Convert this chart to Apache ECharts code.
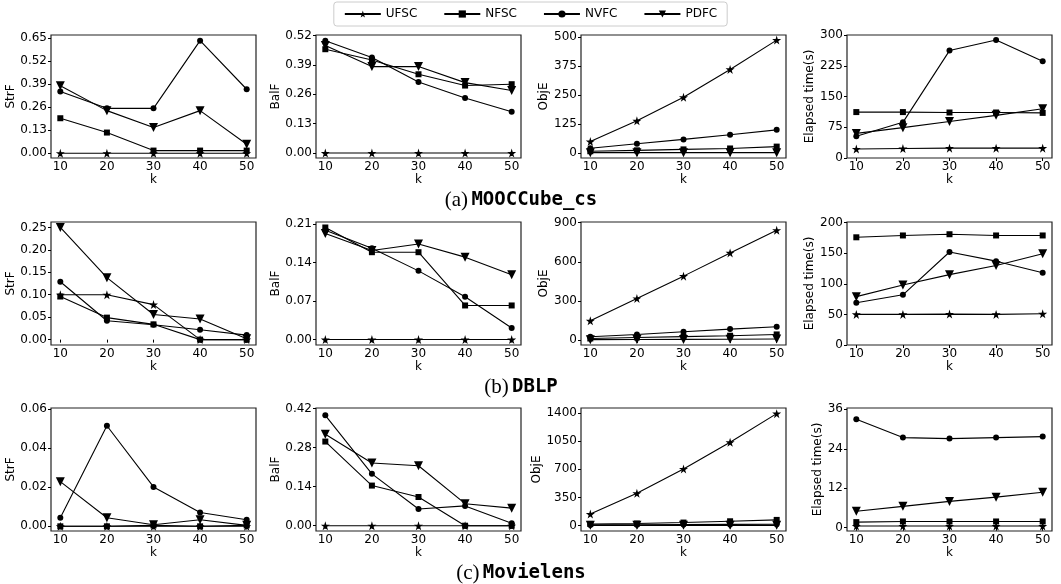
<!DOCTYPE html>
<html>
<head>
<meta charset="utf-8">
<script src="https://cdn.jsdelivr.net/npm/echarts@6/dist/echarts.min.js"></script>
<style>
html,body{margin:0;padding:0;background:#fff;}
#chart{width:1061px;height:584px;}
</style>
</head>
<body>
<div id="chart"></div>
<script>
// ---------------- data ----------------
const algorithms = ['UFSC', 'NFSC', 'NVFC', 'PDFC'];
const kValues = [10, 20, 30, 40, 50];
const datasets = ['MOOCCube_cs', 'DBLP', 'Movielens'];
const captionTags = ['(a)', '(b)', '(c)'];
const metricNames = ['StrF', 'BalF', 'ObjE', 'Elapsed time(s)'];

// rows: UFSC, NFSC, NVFC, PDFC
const moocStrF = [[0,0,0,0,0],[0.198,0.117,0.015,0.015,0.015],[0.349,0.254,0.254,0.637,0.362],[0.382,0.241,0.145,0.241,0.051]];
const moocBalF = [[0,0,0,0,0],[0.460,0.412,0.349,0.299,0.305],[0.498,0.423,0.315,0.244,0.183],[0.476,0.383,0.383,0.312,0.277]];
const moocObjE = [[50,139,240,360,486],[8,12,16,20,28],[21,40,59,79,100],[2,2,2,2,2]];
const moocTime = [[22,23,24,24,24],[112,112,111,111,110],[53,87,262,288,236],[60,74,89,104,120]];

const dblpStrF = [[0.10,0.10,0.078,0,0],[0.096,0.049,0.034,0,0],[0.129,0.042,0.033,0.022,0.010],[0.25,0.138,0.056,0.046,0.002]];
const dblpBalF = [[0,0,0,0,0],[0.204,0.159,0.159,0.062,0.062],[0.199,0.166,0.125,0.078,0.021],[0.193,0.162,0.174,0.150,0.118]];
const dblpObjE = [[148,319,490,668,842],[12,20,26,33,43],[25,43,64,84,102],[3,4,5,6,8]];
const dblpTime = [[50,50,50.5,50,51],[176,179,181,179,179],[69,82,152,137,118],[79,98,115,130,149]];

const movieStrF = [[0,0,0,0,0],[0,0,0.0005,0,0.0005],[0.0044,0.0516,0.0202,0.0071,0.0034],[0.0229,0.0044,0.0008,0.0034,0.0005]];
const movieBalF = [[0,0,0,0,0],[0.302,0.144,0.103,0,0],[0.396,0.186,0.060,0.071,0.009],[0.328,0.225,0.215,0.079,0.063]];
const movieObjE = [[143,401,704,1036,1392],[20,25,37,53,70],[8,10,12,14,16],[2,2,2,2,2]];
const movieTime = [[0.5,0.5,0.5,0.5,0.5],[1.7,1.9,1.9,1.9,1.9],[33.0,27.4,27.1,27.4,27.7],[5.0,6.5,8.0,9.3,10.8]];

// y tick labels per panel
const moocTicks = [[0,0.13,0.26,0.39,0.52,0.65],[0,0.13,0.26,0.39,0.52],[0,125,250,375,500],[0,75,150,225,300]];
const dblpTicks = [[0,0.05,0.10,0.15,0.20,0.25],[0,0.07,0.14,0.21],[0,300,600,900],[0,50,100,150,200]];
const movieTicks = [[0,0.02,0.04,0.06],[0,0.14,0.28,0.42],[0,350,700,1050,1400],[0,12,24,36]];
const tickDecimals = [2, 2, 0, 0];

// ---------------- layout / style ----------------
const panelValues = [[moocStrF, moocBalF, moocObjE, moocTime],[dblpStrF, dblpBalF, dblpObjE, dblpTime],[movieStrF, movieBalF, movieObjE, movieTime]];
const panelTicks = [moocTicks, dblpTicks, movieTicks];
const yRanges = [
  [[-0.027,0.669],[-0.022,0.523],[-21,508],[0,300]],
  [[-0.012,0.262],[-0.010,0.214],[-38,905],[0,201]],
  [[-0.0024,0.0607],[-0.019,0.4224],[-68,1462],[-1.0,36.4]]
];
const yNameGaps = [[33,33,30,28],[33,33,30,28],[33,33,37,19]];
const colLeft = [51, 316, 581, 847];
const rowTop = [35, 222, 408];
const gridW = 205, gridH = 123;
const captionY = [200, 387, 573];
const captionX = 521;

const STAR = 'path://M50,0 L61,35 L98,35 L68,57 L79,91 L50,70 L21,91 L32,57 L2,35 L39,35 Z';
const TRI_DOWN = 'path://M0,0 L10,0 L5,9 Z';
const symbols = [STAR, 'rect', 'circle', TRI_DOWN];
const symbolSizes = [9, 6, 6, 9];
const FONT = 'DejaVu Sans';

const grids = [], xAxes = [], yAxes = [], series = [];
let idx = 0;
for (let r = 0; r < 3; r++) {
  for (let c = 0; c < 4; c++) {
    grids.push({
      left: colLeft[c], top: rowTop[r], width: gridW, height: gridH,
      show: true, borderColor: '#222', borderWidth: 1.2, backgroundColor: 'transparent'
    });
    xAxes.push({
      type: 'value', gridIndex: idx, min: 8, max: 52,
      name: 'k', nameLocation: 'middle', nameGap: 16,
      nameTextStyle: {fontFamily: FONT, fontSize: 12, color: '#000'},
      axisLine: {show: false},
      axisTick: {show: true, length: 3, inside: false, customValues: kValues, lineStyle: {color: '#000'}},
      axisLabel: {customValues: kValues, fontFamily: FONT, fontSize: 12, color: '#000', margin: 3},
      splitLine: {show: false}
    });
    const ticks = panelTicks[r][c];
    const dec = tickDecimals[c];
    yAxes.push({
      type: 'value', gridIndex: idx, min: yRanges[r][c][0], max: yRanges[r][c][1],
      name: metricNames[c], nameLocation: 'middle', nameGap: yNameGaps[r][c],
      nameTextStyle: {fontFamily: FONT, fontSize: 12, color: '#000'},
      axisLine: {show: false},
      axisTick: {show: true, length: 3, inside: false, customValues: ticks, lineStyle: {color: '#000'}},
      axisLabel: {customValues: ticks, fontFamily: FONT, fontSize: 12, color: '#000', margin: 4,
        formatter: v => Number(v).toFixed(dec)},
      splitLine: {show: false}
    });
    const vals = panelValues[r][c];
    for (let a = 0; a < 4; a++) {
      series.push({
        type: 'line', name: algorithms[a], xAxisIndex: idx, yAxisIndex: idx,
        data: kValues.map((k, j) => [k, vals[a][j]]),
        symbol: symbols[a], symbolSize: symbolSizes[a], showAllSymbol: true,
        lineStyle: {color: '#000', width: 1.1},
        itemStyle: {color: '#000', borderWidth: 0},
        emphasis: {disabled: true},
        animation: false, silent: true, z: 2 + a
      });
    }
    idx++;
  }
}

const graphics = datasets.map((d, r) => ({
  type: 'text',
  x: captionX, y: captionY[r],
  style: {
    text: '{t|' + captionTags[r] + '} {d|' + d + '}',
    textAlign: 'center', textVerticalAlign: 'middle',
    rich: {
      t: {fontFamily: 'Liberation Serif', fontSize: 21, fill: '#000'},
      d: {fontFamily: 'DejaVu Sans Mono', fontWeight: 'bold', fontSize: 19, fill: '#000'}
    }
  }
}));

const chart = echarts.init(document.getElementById('chart'), null, {renderer: 'canvas'});
chart.setOption({
  backgroundColor: '#fff',
  animation: false,
  legend: {
    data: algorithms,
    top: 2, left: 'center',
    itemWidth: 36, itemHeight: 9, itemGap: 26,
    padding: [6, 10],
    borderColor: '#ccc', borderWidth: 1, borderRadius: 3,
    textStyle: {fontFamily: FONT, fontSize: 12, color: '#000'},
    selectedMode: false
  },
  grid: grids, xAxis: xAxes, yAxis: yAxes, series: series,
  graphic: graphics
});
</script>
</body>
</html>
